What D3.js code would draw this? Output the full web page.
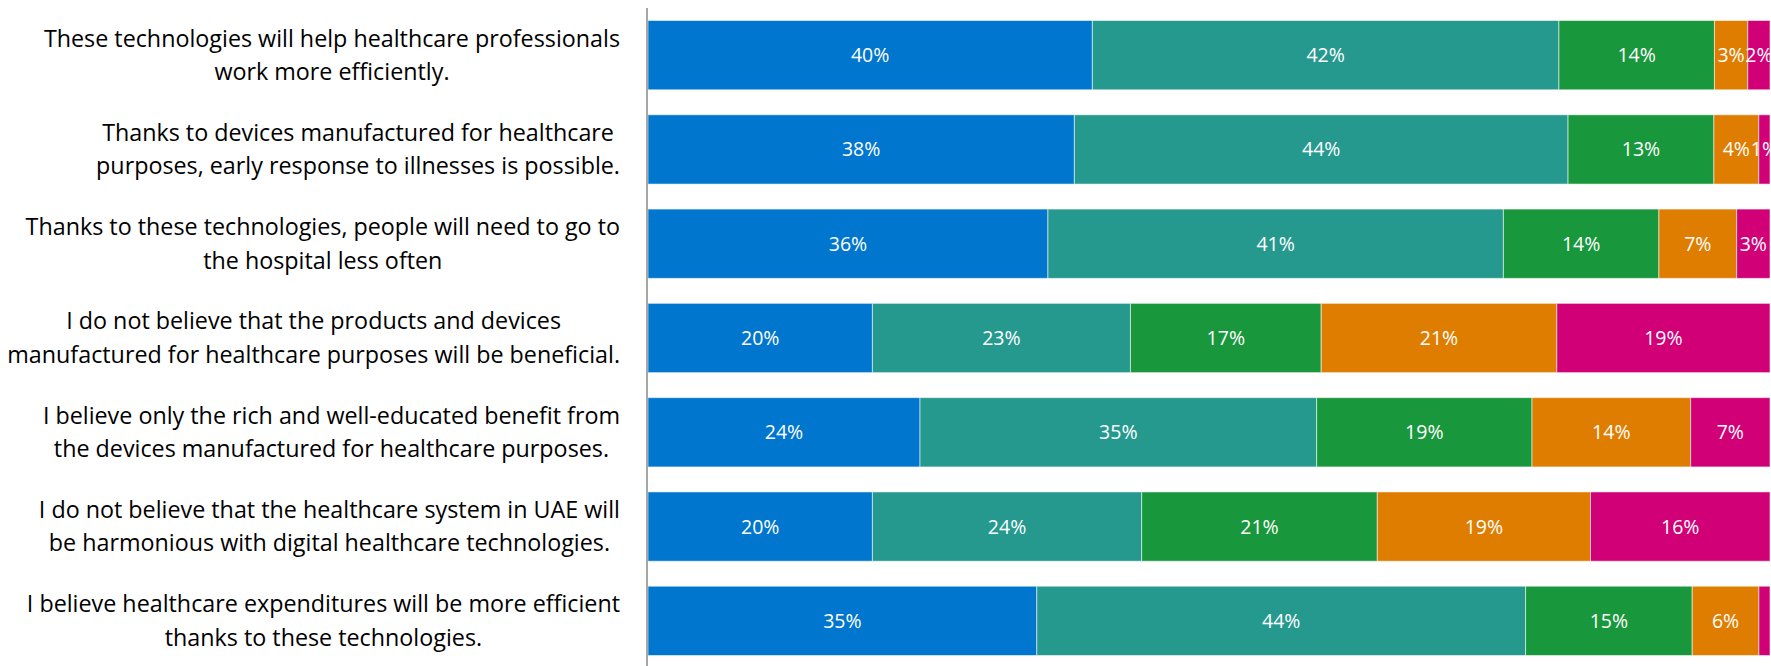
<!DOCTYPE html>
<html>
<head>
<meta charset="utf-8">
<script src="https://cdn.jsdelivr.net/npm/d3@7"></script>
<style>
  html, body { margin: 0; padding: 0; background: #ffffff; }
  svg { display: block; }
</style>
</head>
<body>
<svg id="chart" width="1771" height="666"></svg>
<script>
// Survey statements, wrapped as shown on the axis
const statementLines = [
  ["These technologies will help healthcare professionals", "work more efficiently."],
  ["Thanks to devices manufactured for healthcare", "purposes, early response to illnesses is possible."],
  ["Thanks to these technologies, people will need to go to", "the hospital less often"],
  ["I do not believe that the products and devices", "manufactured for healthcare purposes will be beneficial."],
  ["I believe only the rich and well-educated benefit from", "the devices manufactured for healthcare purposes."],
  ["I do not believe that the healthcare system in UAE will", "be harmonious with digital healthcare technologies."],
  ["I believe healthcare expenditures will be more efficient", "thanks to these technologies."]
];

// Response shares (%) per statement
const stronglyAgree    = [40, 38, 36, 20, 24, 20, 35];
const agree            = [42, 44, 41, 23, 35, 24, 44];
const neutral          = [14, 13, 14, 17, 19, 21, 15];
const disagree         = [3, 4, 7, 21, 14, 19, 6];
const stronglyDisagree = [2, 1, 3, 19, 7, 16, 1];

const seriesKeys = ["Strongly agree", "Agree", "Neutral", "Disagree", "Strongly disagree"];
const seriesColors = ["#0076CE", "#26998F", "#19973C", "#DF7D00", "#D10077"];

// Segments whose value label is left off: [statement index, series index]
const unlabeled = [[6, 4]];

const rows = statementLines.map((lines, i) => ({
  id: i,
  "Strongly agree": stronglyAgree[i],
  "Agree": agree[i],
  "Neutral": neutral[i],
  "Disagree": disagree[i],
  "Strongly disagree": stronglyDisagree[i]
}));

const svg = d3.select("#chart");
const margin = { left: 648, right: 1, top: 8, bottom: -2 };
const W = 1771, H = 666;

const stack = d3.stack().keys(seriesKeys).offset(d3.stackOffsetExpand);
const layers = stack(rows);

const x = d3.scaleLinear().domain([0, 1]).range([margin.left, W - margin.right]);
const y = d3.scaleBand()
  .domain(rows.map(d => d.id))
  .range([margin.top, H - margin.bottom])
  .paddingInner(0.265)
  .paddingOuter(0.1325);

const color = d3.scaleOrdinal().domain(seriesKeys).range(seriesColors);

// Stacked segments
const groups = svg.append("g").selectAll("g")
  .data(layers)
  .join("g")
  .attr("fill", d => color(d.key));

groups.selectAll("rect")
  .data(d => d)
  .join("rect")
  .attr("x", d => x(d[0]))
  .attr("y", d => y(d.data.id))
  .attr("width", d => x(d[1]) - x(d[0]))
  .attr("height", y.bandwidth())
  .attr("stroke", "rgba(255,255,255,0.55)")
  .attr("stroke-width", 1);

// Value labels
const hidden = new Set(unlabeled.map(p => p.join(",")));
const labelG = svg.append("g")
  .attr("font-family", "'Open Sans', Lato, sans-serif")
  .attr("font-size", 19.5)
  .attr("fill", "#ffffff")
  .attr("text-anchor", "middle");

layers.forEach((layer, si) => {
  layer.forEach((d, ri) => {
    if (hidden.has(ri + "," + si)) return;
    labelG.append("text")
      .attr("x", (x(d[0]) + x(d[1])) / 2)
      .attr("y", y(d.data.id) + y.bandwidth() / 2)
      .attr("dy", "0.36em")
      .text(d.data[layer.key] + "%");
  });
});

// Category axis line
svg.append("line")
  .attr("x1", margin.left - 1).attr("x2", margin.left - 1)
  .attr("y1", y.range()[0]).attr("y2", H)
  .attr("stroke", "#A6A6A6")
  .attr("stroke-width", 2);

// Statement labels: each block centred on its own lines, right-aligned to the axis
const labelRight = 620;
const lineGap = 33.5;
const catG = svg.append("g")
  .attr("font-family", "'Open Sans', Lato, sans-serif")
  .attr("font-size", 23.3)
  .attr("fill", "#000000")
  .attr("text-anchor", "middle");

statementLines.forEach((lines, i) => {
  const t = catG.append("text");
  const cy = y(i) + y.bandwidth() / 2;
  const spans = lines.map((ln, k) => t.append("tspan")
    .attr("y", cy + (k - (lines.length - 1) / 2) * lineGap)
    .attr("dy", "0.35em")
    .text(ln));
  const maxW = d3.max(spans, s => s.node().getComputedTextLength());
  spans.forEach(s => s.attr("x", labelRight - maxW / 2));
});
</script>
</body>
</html>
